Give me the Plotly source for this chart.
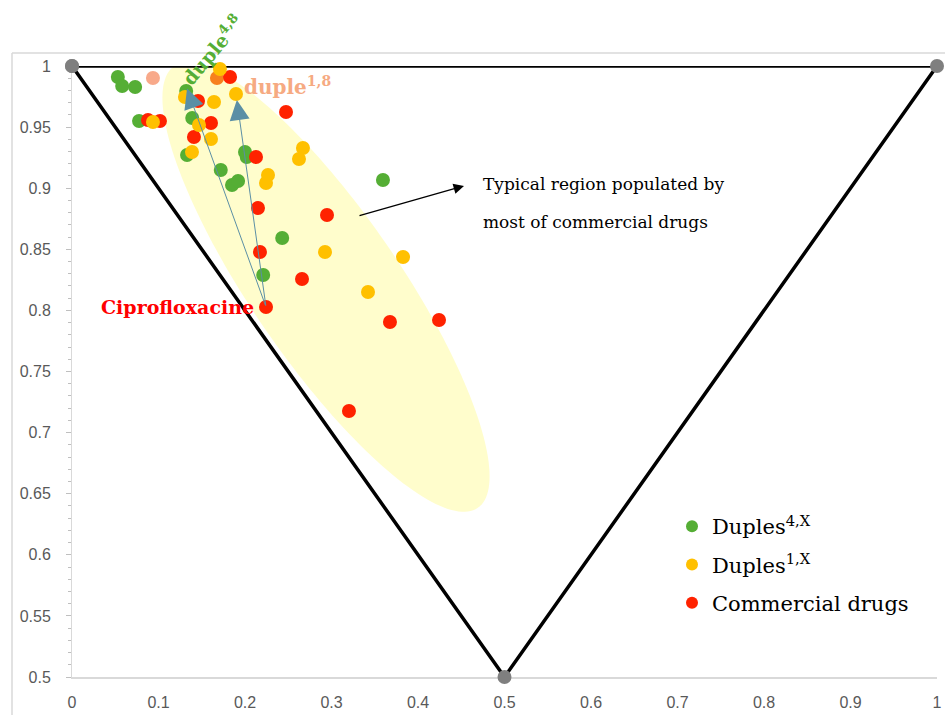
import numpy as np
import plotly.graph_objects as go

# ---------------- data ----------------
green_x = [0.053, 0.058, 0.073, 0.0775, 0.132, 0.139, 0.133, 0.172, 0.200, 0.202, 0.185, 0.192, 0.243, 0.221, 0.3595]
green_y = [0.991, 0.9836, 0.9828, 0.955, 0.9795, 0.9574, 0.9272, 0.9149, 0.9296, 0.9255, 0.9026, 0.9059, 0.8592, 0.829, 0.9067]

yellow_x = [0.171, 0.1896, 0.1642, 0.1306, 0.0936, 0.1468, 0.1607, 0.1387, 0.2266, 0.2243, 0.267, 0.2624, 0.2925, 0.3827, 0.3422]
yellow_y = [0.9975, 0.9771, 0.9705, 0.9746, 0.9542, 0.9517, 0.9403, 0.9296, 0.9108, 0.9043, 0.9329, 0.9239, 0.8478, 0.8437, 0.815]

red_x = [0.1827, 0.1457, 0.0879, 0.1017, 0.1607, 0.141, 0.2127, 0.2474, 0.215, 0.2948, 0.2173, 0.2659, 0.2243, 0.3676, 0.4243, 0.3202]
red_y = [0.991, 0.9714, 0.9558, 0.955, 0.9534, 0.9419, 0.9255, 0.9624, 0.8838, 0.8781, 0.8478, 0.8257, 0.8028, 0.7905, 0.7921, 0.7177]

other_x = [0.0936, 0.1676]
other_y = [0.9902, 0.9902]

tri_x = [0, 1, 0.5, 0]
tri_y = [1, 1, 0.5, 1]

x_ticks = [0, 0.1, 0.2, 0.3, 0.4, 0.5, 0.6, 0.7, 0.8, 0.9, 1]
x_tick_labels = ["0", "0.1", "0.2", "0.3", "0.4", "0.5", "0.6", "0.7", "0.8", "0.9", "1"]
y_ticks = [0.5, 0.55, 0.6, 0.65, 0.7, 0.75, 0.8, 0.85, 0.9, 0.95, 1]
y_tick_labels = ["0.5", "0.55", "0.6", "0.65", "0.7", "0.75", "0.8", "0.85", "0.9", "0.95", "1"]

cipro_idx = 12      # Ciprofloxacine in red series
d48_idx = 4         # duple 4,8 in green series
d18_idx = 1         # duple 1,8 in yellow series

# ---------------- layout geometry ----------------
W, H = 945, 715
ML, MR, MT, MB = 72, 8, 66, 38
PW, PH = W - ML - MR, H - MT - MB
X0, X1, Y0, Y1 = 0.0, 1.0, 0.5, 1.0

def px2x(px):
    return X0 + (px - ML) / PW * (X1 - X0)

def py2y(py):
    return Y1 - (py - MT) / PH * (Y1 - Y0)

def px2p(px):
    return (px - ML) / PW

def py2p(py):
    return (H - MB - py) / PH

# ellipse (pixel-space definition)
cx, cy, ea, eb, ang = 326.0, 287.0, 268.0, 74.0, np.deg2rad(55.5)
t = np.linspace(0, 2 * np.pi, 181)
ux, uy = np.cos(ang), np.sin(ang)
vx, vy = np.sin(ang), -np.cos(ang)
epx = cx + ea * np.cos(t) * ux + eb * np.sin(t) * vx
epy = cy + ea * np.cos(t) * uy + eb * np.sin(t) * vy
ex, ey = px2x(epx), py2y(epy)
path = "M " + " L ".join(f"{a:.5f},{b:.5f}" for a, b in zip(ex, ey)) + " Z"

SERIF = "DejaVu Serif, Liberation Serif, serif"
SANS = "Liberation Sans, Arial, sans-serif"

GREEN = "#55ae35"
YELLOW = "#ffc000"
RED = "#ff2200"

fig = go.Figure()

fig.add_trace(go.Scatter(
    x=tri_x, y=tri_y, mode="lines+markers",
    line=dict(color="black", width=3.5),
    marker=dict(color="#7f7f7f", size=14),
    showlegend=False, hoverinfo="skip", cliponaxis=False,
))

fig.add_trace(go.Scatter(
    x=green_x, y=green_y, mode="markers", name="Duples<sup>4,X</sup>",
    marker=dict(color=GREEN, size=14), legendgroup="g", legendrank=1,
    cliponaxis=False,
))
fig.add_trace(go.Scatter(
    x=other_x, y=other_y, mode="markers",
    marker=dict(color=["#f8a98a", "#f7801e"], size=14), showlegend=False,
    cliponaxis=False,
))
fig.add_trace(go.Scatter(
    x=red_x, y=red_y, mode="markers", name="Commercial drugs",
    marker=dict(color=RED, size=14), legendgroup="r", legendrank=3,
    cliponaxis=False,
))
fig.add_trace(go.Scatter(
    x=yellow_x, y=yellow_y, mode="markers", name="Duples<sup>1,X</sup>",
    marker=dict(color=YELLOW, size=14), legendgroup="y", legendrank=2,
    cliponaxis=False,
))

shapes = [
    dict(type="path", path=path, xref="x", yref="y", fillcolor="#fffdcc",
         line=dict(width=0), layer="below"),
    # outer chart-area frame
    dict(type="line", xref="paper", yref="paper",
         x0=px2p(12), x1=px2p(W + 5), y0=py2p(53), y1=py2p(53),
         line=dict(color="#d9d9d9", width=1.5)),
    dict(type="line", xref="paper", yref="paper",
         x0=px2p(12), x1=px2p(12), y0=py2p(53), y1=py2p(H + 5),
         line=dict(color="#d9d9d9", width=1.5)),
]

cx_d, cy_d = red_x[cipro_idx], red_y[cipro_idx]
annotations = [
    dict(x=px2x(256), y=cy_d, xref="x", yref="y", text="<b>Ciprofloxacine</b>",
         showarrow=False, xanchor="right", yanchor="middle",
         font=dict(family=SERIF, size=19, color="#ff0000")),
    dict(x=px2p(212), y=py2p(50), xref="paper", yref="paper",
         text="<b>duple<sup>4,8</sup></b>",
         showarrow=False, textangle=-50, xanchor="center", yanchor="middle",
         font=dict(family=SERIF, size=19, color="#55ae35")),
    dict(x=px2x(242), y=py2y(86), xref="x", yref="y", text="<b>duple<sup>1,8</sup></b>",
         showarrow=False, xanchor="left", yanchor="middle",
         font=dict(family=SERIF, size=20, color="#f6aa82")),
    dict(x=px2x(481), y=py2y(184), xref="x", yref="y", text="Typical region populated by",
         showarrow=False, xanchor="left", yanchor="middle",
         font=dict(family=SERIF, size=17, color="black")),
    dict(x=px2x(481), y=py2y(222), xref="x", yref="y", text="most of commercial drugs",
         showarrow=False, xanchor="left", yanchor="middle",
         font=dict(family=SERIF, size=17, color="black")),
    # black arrow to the label
    dict(x=px2x(464), y=py2y(186), ax=px2x(358), ay=py2y(216),
         xref="x", yref="y", axref="x", ayref="y", text="", showarrow=True,
         arrowhead=2, arrowsize=1.6, arrowwidth=1.3, arrowcolor="black"),
    # blue arrows from Ciprofloxacine
    dict(x=green_x[d48_idx] + 0.001, y=green_y[d48_idx] + 0.002, ax=cx_d, ay=cy_d,
         xref="x", yref="y", axref="x", ayref="y", text="", showarrow=True,
         arrowhead=2, arrowsize=4, arrowwidth=1, arrowcolor="#5b8fa5"),
    dict(x=yellow_x[d18_idx] + 0.001, y=yellow_y[d18_idx] - 0.005, ax=cx_d, ay=cy_d,
         xref="x", yref="y", axref="x", ayref="y", text="", showarrow=True,
         arrowhead=2, arrowsize=4, arrowwidth=1, arrowcolor="#5b8fa5"),
]

fig.update_layout(
    width=W, height=H,
    margin=dict(l=ML, r=MR, t=MT, b=MB, autoexpand=False),
    paper_bgcolor="white", plot_bgcolor="white",
    shapes=shapes, annotations=annotations,
    legend=dict(x=px2p(672), y=py2p(506), xanchor="left", yanchor="top",
                bgcolor="rgba(0,0,0,0)", tracegroupgap=8,
                font=dict(family=SERIF, size=21, color="black"), itemsizing="constant"),
    xaxis=dict(range=[X0, X1], tickvals=x_ticks, ticktext=x_tick_labels,
               showgrid=False, zeroline=False, showline=True, linecolor="#d9d9d9",
               linewidth=1.5, ticks="", ticklabelstandoff=10, layer="below traces",
               tickfont=dict(family=SANS, size=16, color="#595959")),
    yaxis=dict(range=[Y0, Y1], tickvals=y_ticks, ticktext=y_tick_labels,
               showgrid=False, zeroline=False, showline=True, linecolor="#d9d9d9",
               linewidth=1, ticks="outside", ticklen=5, tickcolor="#bfbfbf",
               ticklabelstandoff=12, layer="below traces",
               minor=dict(dtick=0.01, ticks="outside", ticklen=3, tickcolor="#bfbfbf"),
               tickfont=dict(family=SANS, size=16, color="#595959")),
)

fig.write_html("out.html", config={"displayModeBar": False},
               post_script="document.body.style.margin='0';document.body.style.overflow='hidden';")
